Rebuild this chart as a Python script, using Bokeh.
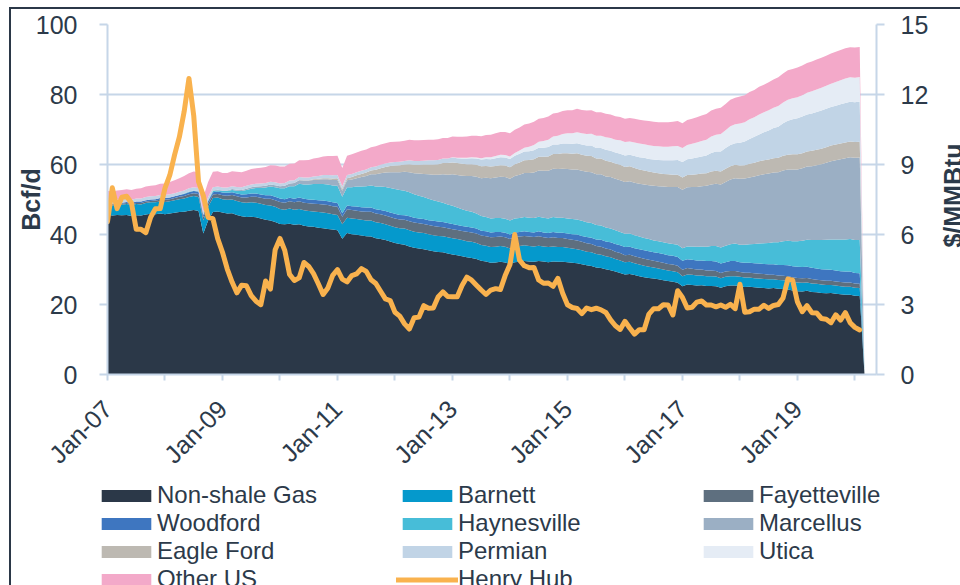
import math
from bokeh.plotting import figure
from bokeh.layouts import column, row
from bokeh.models import (ColumnDataSource, Range1d, LinearAxis, FixedTicker,
                          Legend, LegendItem, Label)
from bokeh.embed import file_html
from bokeh.resources import INLINE

# ---------------- data (Bcf/d, monthly Jan-07 .. Feb-20, trailing empty month) ----
non_shale = [
    45.7, 45.4, 45.6, 45.5, 45.6, 45.3, 45.5, 45.4, 45.7, 45.9, 45.8, 46.0,
    45.8, 46.0, 46.2, 46.4, 46.5, 46.8, 47.0, 46.7, 40.3, 44.0, 46.4, 46.6,
    46.3, 46.0, 46.1, 45.6, 45.2, 45.0, 45.1, 44.9, 44.6, 44.2, 44.0, 43.6,
    43.0, 42.9, 43.1, 42.8, 42.9, 42.5, 42.3, 42.2, 41.9, 41.8, 41.6, 41.4,
    41.2, 38.8, 40.4, 40.1, 39.9, 39.7, 39.5, 39.4, 38.9, 38.7, 38.4, 38.0,
    37.6, 37.3, 37.1, 36.6, 36.2, 36.0, 35.8, 35.5, 35.2, 35.0, 34.9, 34.6,
    34.3, 34.1, 33.8, 33.5, 33.3, 33.0, 32.5, 32.3, 31.9, 32.0, 32.2, 32.0,
    31.6, 32.1, 32.2, 32.4, 32.3, 32.2, 32.4, 32.3, 32.1, 32.3, 32.2, 32.2,
    32.1, 31.9, 31.8, 31.5, 31.2, 31.0, 30.6, 30.4, 30.1, 29.8, 29.4, 29.0,
    28.6, 28.7, 28.4, 28.1, 27.8, 27.6, 27.4, 27.2, 26.9, 26.7, 26.5, 26.2,
    25.2, 25.7, 25.6, 25.4, 25.5, 25.3, 25.3, 25.2, 24.8, 25.2, 25.4, 25.4,
    25.2, 25.0, 25.1, 24.9, 24.8, 24.7, 24.6, 24.7, 24.5, 24.4, 24.3, 24.0,
    23.8, 23.7, 23.9, 23.6, 23.5, 23.3, 23.2, 23.3, 23.1, 22.9, 22.8, 22.8,
    22.5, 22.4, 0,
]
barnett = [
    2.9, 2.9, 3.0, 3.0, 3.1, 3.1, 3.2, 3.2, 3.3, 3.3, 3.4, 3.4,
    3.5, 3.5, 3.6, 3.7, 3.8, 3.9, 4.0, 4.0, 3.7, 3.9, 4.0, 4.0,
    3.8, 3.9, 3.9, 4.0, 4.0, 4.1, 4.1, 4.2, 4.2, 4.2, 4.3, 4.3,
    4.3, 4.2, 4.3, 4.3, 4.4, 4.4, 4.4, 4.4, 4.5, 4.5, 4.5, 4.4,
    4.4, 4.1, 4.4, 4.5, 4.5, 4.5, 4.5, 4.6, 4.6, 4.6, 4.5, 4.5,
    4.5, 4.5, 4.6, 4.6, 4.6, 4.6, 4.6, 4.6, 4.6, 4.6, 4.6, 4.6,
    4.6, 4.6, 4.6, 4.6, 4.6, 4.6, 4.5, 4.5, 4.5, 4.5, 4.5, 4.5,
    4.4, 4.5, 4.5, 4.5, 4.4, 4.4, 4.4, 4.3, 4.3, 4.3, 4.2, 4.2,
    4.1, 4.1, 4.0, 4.0, 3.9, 3.9, 3.8, 3.8, 3.7, 3.7, 3.6, 3.6,
    3.5, 3.5, 3.4, 3.3, 3.3, 3.2, 3.2, 3.1, 3.1, 3.0, 3.0, 3.0,
    2.9, 2.9, 2.9, 2.9, 2.8, 2.8, 2.8, 2.8, 2.7, 2.7, 2.7, 2.7,
    2.7, 2.7, 2.6, 2.6, 2.6, 2.6, 2.6, 2.5, 2.5, 2.5, 2.5, 2.5,
    2.5, 2.5, 2.4, 2.4, 2.4, 2.4, 2.4, 2.3, 2.3, 2.3, 2.3, 2.3,
    2.3, 2.3, 0,
]
fayetteville = [
    0.2, 0.2, 0.2, 0.3, 0.3, 0.3, 0.3, 0.4, 0.4, 0.4, 0.5, 0.5,
    0.6, 0.6, 0.6, 0.7, 0.7, 0.8, 0.8, 0.9, 0.9, 0.9, 1.0, 1.0,
    1.1, 1.2, 1.3, 1.3, 1.4, 1.5, 1.6, 1.7, 1.7, 1.8, 1.9, 1.9,
    2.0, 2.0, 2.1, 2.1, 2.2, 2.2, 2.2, 2.2, 2.3, 2.3, 2.3, 2.3,
    2.3, 2.2, 2.4, 2.4, 2.4, 2.4, 2.5, 2.5, 2.5, 2.5, 2.5, 2.5,
    2.5, 2.5, 2.5, 2.6, 2.6, 2.6, 2.6, 2.6, 2.6, 2.6, 2.6, 2.6,
    2.6, 2.6, 2.6, 2.7, 2.7, 2.7, 2.7, 2.7, 2.8, 2.8, 2.7, 2.7,
    2.7, 2.7, 2.7, 2.7, 2.7, 2.7, 2.7, 2.6, 2.6, 2.6, 2.6, 2.6,
    2.5, 2.5, 2.5, 2.4, 2.4, 2.4, 2.3, 2.3, 2.2, 2.2, 2.1, 2.1,
    2.0, 2.0, 2.0, 2.0, 2.0, 2.0, 1.9, 1.9, 1.9, 1.9, 1.9, 1.9,
    1.8, 1.8, 1.7, 1.7, 1.7, 1.6, 1.6, 1.6, 1.5, 1.5, 1.5, 1.5,
    1.4, 1.4, 1.4, 1.4, 1.4, 1.4, 1.3, 1.3, 1.3, 1.3, 1.3, 1.3,
    1.3, 1.3, 1.3, 1.3, 1.2, 1.2, 1.2, 1.2, 1.2, 1.2, 1.2, 1.2,
    1.2, 1.2, 0,
]
woodford = [
    0.3, 0.3, 0.3, 0.3, 0.3, 0.3, 0.4, 0.4, 0.4, 0.4, 0.4, 0.5,
    0.5, 0.5, 0.5, 0.5, 0.6, 0.6, 0.6, 0.6, 0.6, 0.7, 0.7, 0.7,
    0.8, 0.8, 0.8, 0.8, 0.8, 0.9, 0.9, 0.9, 0.9, 1.0, 1.0, 1.0,
    1.0, 1.0, 1.0, 1.0, 1.1, 1.1, 1.1, 1.1, 1.1, 1.1, 1.1, 1.1,
    1.1, 1.0, 1.1, 1.1, 1.2, 1.2, 1.2, 1.2, 1.2, 1.2, 1.3, 1.3,
    1.3, 1.3, 1.3, 1.4, 1.4, 1.4, 1.4, 1.4, 1.5, 1.5, 1.5, 1.5,
    1.5, 1.4, 1.4, 1.4, 1.4, 1.4, 1.4, 1.4, 1.4, 1.4, 1.3, 1.3,
    1.3, 1.3, 1.3, 1.3, 1.3, 1.3, 1.4, 1.4, 1.4, 1.5, 1.5, 1.5,
    1.6, 1.6, 1.7, 1.7, 1.8, 1.8, 1.9, 2.0, 2.0, 2.1, 2.2, 2.2,
    2.3, 2.3, 2.3, 2.4, 2.4, 2.4, 2.4, 2.5, 2.5, 2.5, 2.5, 2.5,
    2.6, 2.5, 2.6, 2.6, 2.6, 2.7, 2.7, 2.7, 2.7, 2.7, 2.8, 2.8,
    2.8, 2.8, 2.8, 2.9, 2.9, 2.9, 3.0, 3.0, 3.0, 3.1, 3.1, 3.1,
    3.2, 3.2, 3.2, 3.2, 3.2, 3.2, 3.2, 3.1, 3.1, 3.1, 3.1, 3.1,
    3.0, 3.0, 0,
]
haynesville = [
    0, 0, 0, 0, 0, 0, 0, 0, 0, 0, 0, 0,
    0, 0, 0, 0, 0.1, 0.1, 0.1, 0.1, 0.1, 0.2, 0.3, 0.3,
    0.4, 0.5, 0.6, 0.8, 1.0, 1.2, 1.4, 1.6, 1.9, 2.2, 2.5, 2.7,
    2.9, 3.1, 3.3, 3.6, 3.9, 4.1, 4.3, 4.5, 4.6, 4.7, 4.8, 4.8,
    4.9, 4.7, 5.2, 5.4, 5.7, 5.9, 6.1, 6.3, 6.5, 6.7, 6.9, 7.0,
    7.1, 7.1, 7.0, 6.9, 6.7, 6.5, 6.3, 6.1, 5.9, 5.7, 5.5, 5.3,
    5.2, 5.0, 4.8, 4.6, 4.5, 4.3, 4.2, 4.1, 4.0, 4.0, 4.0, 4.0,
    4.0, 4.0, 4.0, 4.1, 4.1, 4.1, 4.2, 4.2, 4.2, 4.3, 4.3, 4.3,
    4.3, 4.3, 4.3, 4.3, 4.2, 4.2, 4.1, 4.1, 4.0, 3.9, 3.9, 3.8,
    3.8, 3.8, 3.7, 3.6, 3.5, 3.5, 3.4, 3.4, 3.4, 3.4, 3.4, 3.5,
    3.6, 3.7, 3.8, 3.9, 4.0, 4.1, 4.3, 4.4, 4.6, 4.7, 4.8, 5.0,
    5.0, 5.2, 5.3, 5.5, 5.7, 5.9, 6.1, 6.3, 6.5, 6.8, 7.0, 7.2,
    7.3, 7.5, 7.7, 7.9, 8.1, 8.3, 8.5, 8.7, 8.9, 9.1, 9.2, 9.3,
    9.4, 9.5, 0,
]
marcellus = [
    0, 0, 0, 0, 0, 0, 0, 0, 0, 0, 0, 0,
    0, 0, 0, 0, 0, 0.1, 0.1, 0.1, 0.1, 0.1, 0.2, 0.2,
    0.2, 0.2, 0.3, 0.3, 0.3, 0.4, 0.4, 0.4, 0.5, 0.5, 0.6, 0.6,
    0.6, 0.7, 0.8, 0.9, 1.0, 1.1, 1.1, 1.2, 1.3, 1.4, 1.5, 1.6,
    1.7, 1.7, 2.0, 2.2, 2.4, 2.7, 2.9, 3.2, 3.5, 3.8, 4.1, 4.5,
    4.8, 5.1, 5.4, 5.7, 6.0, 6.3, 6.6, 7.0, 7.3, 7.7, 8.1, 8.5,
    9.0, 9.3, 9.6, 9.9, 10.2, 10.5, 10.8, 11.2, 11.5, 11.6, 11.8, 11.9,
    11.9, 12.1, 12.4, 12.6, 12.8, 13.0, 13.2, 13.4, 13.6, 13.8, 13.9, 14.0,
    14.1, 14.2, 14.3, 14.3, 14.4, 14.5, 14.5, 14.6, 14.6, 14.7, 14.7, 14.8,
    14.8, 14.9, 15.0, 15.1, 15.3, 15.4, 15.6, 15.7, 15.9, 16.1, 16.3, 16.5,
    16.7, 16.9, 17.0, 17.1, 17.2, 17.4, 17.6, 17.8, 18.0, 18.2, 18.5, 18.7,
    18.8, 18.9, 19.1, 19.3, 19.5, 19.7, 19.8, 19.9, 20.0, 20.2, 20.4, 20.5,
    20.5, 20.7, 20.9, 21.1, 21.4, 21.7, 22.0, 22.3, 22.6, 22.9, 23.2, 23.4,
    23.5, 23.6, 0,
]
eagle_ford = [
    0, 0, 0, 0, 0, 0, 0, 0, 0, 0, 0, 0,
    0, 0, 0, 0, 0, 0, 0, 0, 0, 0, 0, 0,
    0, 0, 0, 0, 0, 0, 0, 0, 0, 0, 0, 0,
    0, 0, 0, 0, 0.1, 0.1, 0.1, 0.2, 0.2, 0.3, 0.3, 0.4,
    0.5, 0.5, 0.6, 0.7, 0.8, 0.9, 1.0, 1.1, 1.3, 1.4, 1.6, 1.8,
    1.9, 2.0, 2.1, 2.3, 2.4, 2.5, 2.7, 2.8, 2.9, 3.0, 3.2, 3.3,
    3.4, 3.4, 3.4, 3.4, 3.4, 3.4, 3.4, 3.4, 3.3, 3.3, 3.3, 3.3,
    3.3, 3.4, 3.5, 3.6, 3.7, 3.8, 3.9, 4.0, 4.1, 4.2, 4.3, 4.4,
    4.5, 4.5, 4.6, 4.6, 4.6, 4.6, 4.5, 4.5, 4.5, 4.4, 4.4, 4.4,
    4.3, 4.3, 4.2, 4.1, 4.0, 3.9, 3.8, 3.7, 3.6, 3.6, 3.5, 3.5,
    3.5, 3.5, 3.5, 3.6, 3.6, 3.6, 3.7, 3.7, 3.7, 3.8, 3.8, 3.8,
    3.8, 3.8, 3.9, 3.9, 4.0, 4.0, 4.0, 4.1, 4.1, 4.2, 4.2, 4.3,
    4.3, 4.3, 4.3, 4.4, 4.4, 4.4, 4.4, 4.5, 4.5, 4.5, 4.5, 4.5,
    4.5, 4.5, 0,
]
permian = [
    0.9, 0.9, 0.9, 0.9, 0.9, 0.9, 0.9, 0.9, 0.9, 0.9, 0.9, 0.9,
    0.9, 0.9, 0.9, 0.9, 0.9, 0.9, 0.9, 0.9, 0.8, 0.9, 0.9, 0.9,
    0.8, 0.8, 0.8, 0.8, 0.8, 0.8, 0.8, 0.8, 0.8, 0.8, 0.8, 0.8,
    0.8, 0.8, 0.8, 0.8, 0.8, 0.8, 0.8, 0.8, 0.8, 0.9, 0.9, 0.9,
    0.9, 0.8, 0.9, 0.9, 0.9, 0.9, 0.9, 0.9, 0.9, 1.0, 1.0, 1.0,
    1.0, 1.0, 1.0, 1.1, 1.1, 1.1, 1.1, 1.2, 1.2, 1.2, 1.3, 1.3,
    1.4, 1.4, 1.5, 1.6, 1.7, 1.8, 1.9, 2.0, 2.1, 2.2, 2.3, 2.3,
    2.4, 2.4, 2.5, 2.5, 2.5, 2.6, 2.6, 2.6, 2.7, 2.7, 2.7, 2.8,
    2.8, 2.8, 2.9, 2.9, 2.9, 3.0, 3.0, 3.0, 3.1, 3.1, 3.1, 3.2,
    3.3, 3.3, 3.4, 3.5, 3.6, 3.6, 3.7, 3.8, 3.9, 4.0, 4.1, 4.2,
    4.4, 4.5, 4.6, 4.8, 4.9, 5.1, 5.3, 5.5, 5.7, 5.9, 6.1, 6.2,
    6.5, 6.8, 7.1, 7.4, 7.7, 8.0, 8.3, 8.6, 8.9, 9.3, 9.7, 10.0,
    10.3, 10.5, 10.6, 10.7, 10.8, 10.9, 11.0, 11.0, 11.1, 11.2, 11.3, 11.3,
    11.4, 11.5, 0,
]
utica = [
    0, 0, 0, 0, 0, 0, 0, 0, 0, 0, 0, 0,
    0, 0, 0, 0, 0, 0, 0, 0, 0, 0, 0, 0,
    0, 0, 0, 0, 0, 0, 0, 0, 0, 0, 0, 0,
    0, 0, 0, 0, 0, 0, 0, 0, 0, 0, 0, 0,
    0, 0, 0, 0, 0, 0, 0, 0, 0, 0, 0, 0,
    0, 0, 0, 0, 0, 0, 0, 0, 0, 0, 0, 0,
    0.1, 0.1, 0.2, 0.2, 0.3, 0.3, 0.4, 0.5, 0.6, 0.6, 0.7, 0.7,
    0.7, 0.8, 0.9, 1.1, 1.3, 1.5, 1.7, 1.9, 2.1, 2.3, 2.5, 2.7,
    2.9, 3.0, 3.1, 3.2, 3.3, 3.4, 3.5, 3.5, 3.6, 3.7, 3.7, 3.8,
    3.8, 3.8, 3.9, 3.9, 3.9, 3.9, 3.9, 3.9, 3.9, 3.9, 4.0, 4.0,
    4.0, 4.1, 4.2, 4.3, 4.4, 4.5, 4.7, 4.8, 5.0, 5.1, 5.3, 5.4,
    5.5, 5.5, 5.6, 5.6, 5.7, 5.7, 5.8, 5.8, 5.9, 5.9, 6.0, 6.0,
    6.0, 6.1, 6.2, 6.3, 6.4, 6.5, 6.6, 6.7, 6.8, 6.9, 7.0, 7.0,
    7.0, 7.0, 0,
]
other_us = [
    2.5, 2.6, 2.6, 2.7, 2.7, 2.8, 2.8, 2.9, 3.0, 3.0, 3.1, 3.2,
    3.3, 3.5, 3.7, 3.9, 4.1, 4.3, 4.5, 4.5, 4.2, 4.3, 4.4, 4.4,
    4.2, 4.2, 4.3, 4.3, 4.3, 4.3, 4.4, 4.4, 4.5, 4.6, 4.7, 4.8,
    4.8, 4.7, 4.8, 4.8, 4.8, 4.9, 5.0, 5.1, 5.2, 5.3, 5.4, 5.5,
    5.5, 5.2, 5.5, 5.6, 5.6, 5.7, 5.7, 5.7, 5.8, 5.8, 5.8, 5.8,
    5.8, 5.8, 5.8, 5.9, 5.9, 5.9, 5.9, 5.9, 5.9, 5.9, 5.9, 5.9,
    5.9, 6.0, 6.0, 6.1, 6.1, 6.2, 6.3, 6.3, 6.4, 6.5, 6.5, 6.6,
    6.6, 6.6, 6.6, 6.6, 6.6, 6.6, 6.6, 6.6, 6.6, 6.6, 6.6, 6.6,
    6.6, 6.6, 6.7, 6.7, 6.7, 6.7, 6.7, 6.7, 6.7, 6.7, 6.7, 6.7,
    6.7, 6.7, 6.8, 6.8, 6.8, 6.9, 6.9, 6.9, 7.0, 7.0, 7.0, 7.1,
    7.1, 7.1, 7.2, 7.2, 7.3, 7.3, 7.4, 7.4, 7.5, 7.5, 7.6, 7.6,
    7.7, 7.7, 7.8, 7.8, 7.9, 7.9, 8.0, 8.1, 8.2, 8.3, 8.4, 8.4,
    8.5, 8.5, 8.5, 8.5, 8.6, 8.6, 8.6, 8.6, 8.6, 8.6, 8.6, 8.6,
    8.6, 8.6, 0,
]
# Henry Hub spot, $/MMBtu, monthly Jan-07 .. Feb-20
henry_hub = [
    6.55, 8.00, 7.11, 7.60, 7.64, 7.35, 6.22, 6.22, 6.08, 6.74, 7.10, 7.11,
    7.99, 8.54, 9.41, 10.18, 11.27, 12.69, 11.09, 8.26, 7.67, 6.74, 6.68, 5.82,
    5.24, 4.52, 3.96, 3.50, 3.83, 3.80, 3.38, 3.14, 2.99, 4.01, 3.66, 5.35,
    5.83, 5.32, 4.29, 4.03, 4.14, 4.80, 4.63, 4.32, 3.89, 3.43, 3.71, 4.25,
    4.49, 4.09, 3.97, 4.24, 4.31, 4.54, 4.42, 4.06, 3.90, 3.57, 3.24, 3.17,
    2.67, 2.50, 2.17, 1.95, 2.43, 2.46, 2.95, 2.84, 2.85, 3.32, 3.54, 3.34,
    3.33, 3.33, 3.81, 4.17, 4.04, 3.83, 3.62, 3.43, 3.62, 3.68, 3.64, 4.24,
    4.71, 6.00, 4.90, 4.66, 4.58, 4.59, 4.05, 3.91, 3.92, 3.78, 4.12, 3.48,
    2.99, 2.87, 2.83, 2.61, 2.85, 2.78, 2.84, 2.77, 2.66, 2.34, 2.09, 1.93,
    2.28, 1.99, 1.73, 1.92, 1.92, 2.59, 2.82, 2.82, 2.99, 2.98, 2.55, 3.59,
    3.30, 2.85, 2.88, 3.10, 3.15, 2.98, 2.98, 2.90, 2.98, 2.88, 3.01, 2.82,
    3.87, 2.67, 2.69, 2.80, 2.80, 2.97, 2.83, 2.96, 3.00, 3.28, 4.09, 4.04,
    3.11, 2.69, 2.95, 2.65, 2.64, 2.40, 2.37, 2.22, 2.56, 2.33, 2.65, 2.22,
    2.02, 1.91,
]
series_names = ["Non-shale Gas", "Barnett", "Fayetteville", "Woodford", "Haynesville",
                "Marcellus", "Eagle Ford", "Permian", "Utica", "Other US"]
series_values = [non_shale, barnett, fayetteville, woodford, haynesville,
                 marcellus, eagle_ford, permian, utica, other_us]
x_tick_labels = ["Jan-07", "Jan-09", "Jan-11", "Jan-13", "Jan-15", "Jan-17", "Jan-19"]
left_ticks = [0, 20, 40, 60, 80, 100]
right_ticks = [0, 3, 6, 9, 12, 15]

# ---------------- styling ----------------
colors = ["#2b3848", "#0599cc", "#5e6f7f", "#3e76c0", "#47bdd8",
          "#9bafc4", "#bdb9b2", "#c1d4e6", "#e5ecf5", "#f3a9c9"]
hub_color = "#f9b24e"
grid_color = "#c6d6e8"
text_color = "#2c3a4a"
FONT = "Liberation Sans"
X_END = 160.5

month_idx = list(range(len(non_shale)))
hub_idx = list(range(len(henry_hub)))

data = {"m": month_idx}
for n, v in zip(series_names, series_values):
    data[n] = v
src = ColumnDataSource(data)
hsrc = ColumnDataSource(dict(m=hub_idx, hub=henry_hub))

# ---------------- main chart ----------------
p = figure(frame_width=769, frame_height=350, output_backend="svg",
           toolbar_location=None,
           x_range=Range1d(0, X_END), y_range=Range1d(0, 100),
           min_border_left=96, min_border_right=62, min_border_top=15,
           min_border_bottom=106)
p.outline_line_color = None
p.background_fill_color = "white"
p.border_fill_color = "white"
p.extra_y_ranges = {"price": Range1d(0, 15)}

area_rs = p.varea_stack(stackers=series_names, x="m", color=colors, source=src)
hub_r = p.line("m", "hub", source=hsrc, y_range_name="price", line_color=hub_color,
               line_width=5, line_join="round", line_cap="round")

p.xgrid.visible = False
p.ygrid.ticker = FixedTicker(ticks=left_ticks)
p.ygrid.grid_line_color = grid_color
p.ygrid.grid_line_width = 2
p.ygrid.level = "underlay"

# x axis
xt = [24 * i for i in range(len(x_tick_labels))]
xminor = [24 * i + 12 for i in range(len(x_tick_labels))]
xa = p.xaxis[0]
xa.ticker = FixedTicker(ticks=xt, minor_ticks=xminor)
xa.major_label_overrides = {t: lab for t, lab in zip(xt, x_tick_labels)}
xa.major_label_orientation = math.pi / 4
xa.axis_line_color = grid_color
xa.axis_line_width = 2
xa.major_tick_line_color = grid_color
xa.minor_tick_line_color = grid_color
xa.major_tick_line_width = 2
xa.minor_tick_line_width = 2
xa.major_tick_in = 0
xa.major_tick_out = 6
xa.minor_tick_in = 0
xa.minor_tick_out = 6
xa.major_label_standoff = 24
xa.major_label_text_font = FONT
xa.major_label_text_font_size = "25px"
xa.major_label_text_color = text_color

# left axis
ya = p.yaxis[0]
ya.ticker = FixedTicker(ticks=left_ticks)
ya.axis_label = "Bcf/d"
ya.axis_label_text_font = FONT
ya.axis_label_text_font_style = "bold"
ya.axis_label_text_font_size = "25px"
ya.axis_label_text_color = text_color
ya.axis_label_standoff = -12
ya.axis_line_color = grid_color
ya.axis_line_width = 2
ya.major_tick_line_color = grid_color
ya.major_tick_line_width = 2
ya.major_tick_in = 0
ya.major_tick_out = 8
ya.minor_tick_line_color = None
ya.major_label_standoff = 22
ya.major_label_text_font = FONT
ya.major_label_text_font_size = "25px"
ya.major_label_text_color = text_color

# right axis
ra = LinearAxis(y_range_name="price", ticker=FixedTicker(ticks=right_ticks))
ra.axis_line_color = grid_color
ra.axis_line_width = 2
ra.major_tick_line_color = grid_color
ra.major_tick_line_width = 2
ra.major_tick_in = 0
ra.major_tick_out = 8
ra.minor_tick_line_color = None
ra.major_label_standoff = 16
ra.major_label_text_font = FONT
ra.major_label_text_font_size = "25px"
ra.major_label_text_color = text_color
p.add_layout(ra, "right")

# ---------------- right axis title strip (frame aligned with the main frame) ----
tstrip = figure(frame_width=40, frame_height=350, output_backend="svg",
                toolbar_location=None,
                x_range=Range1d(0, 1), y_range=Range1d(0, 15),
                x_axis_location=None, y_axis_location=None,
                min_border_left=0, min_border_right=0, min_border_top=15,
                min_border_bottom=106)
tstrip.outline_line_color = None
tstrip.grid.visible = False
tstrip.background_fill_color = "white"
tstrip.border_fill_color = "white"
tstrip.add_layout(Label(x=14, y=179, x_units="screen", y_units="screen",
                        text="$/MMBtu", angle=math.pi / 2, text_align="center",
                        text_baseline="middle", text_font=FONT,
                        text_font_style="bold", text_font_size="25px",
                        text_color=text_color))

# ---------------- legend strip ----------------
leg = figure(width=949, height=120, output_backend="svg", toolbar_location=None,
             x_range=Range1d(0, 1), y_range=Range1d(0, 1),
             x_axis_location=None, y_axis_location=None,
             min_border_left=84, min_border_right=0, min_border_top=0,
             min_border_bottom=0)
leg.outline_line_color = None
leg.grid.visible = False
leg.background_fill_color = "white"
leg.border_fill_color = "white"
items = []
for n, c in zip(series_names, colors):
    r = leg.varea(x=[-1], y1=[-1], y2=[-1], fill_color=c)
    items.append(LegendItem(label=n, renderers=[r]))
rl = leg.line(x=[-1], y=[-1], line_color=hub_color, line_width=5, line_cap="round")
items.append(LegendItem(label="Henry Hub", renderers=[rl]))
legend = Legend(items=items, orientation="horizontal", ncols=3,
                location="top_left", glyph_width=62, glyph_height=15,
                label_standoff=0, label_width=239, label_height=24, spacing=0,
                padding=0, margin=0, border_line_color=None,
                background_fill_alpha=0, label_text_font=FONT,
                label_text_font_size="24px", label_text_color=text_color)
leg.add_layout(legend)

root = column(row(p, tstrip, spacing=0), leg, spacing=0)
root.styles = {"margin-left": "9px", "margin-top": "7px",
               "border-left": "2px solid #2b3848", "border-top": "2px solid #2b3848"}

open("out.html", "w").write(file_html(root, INLINE))
